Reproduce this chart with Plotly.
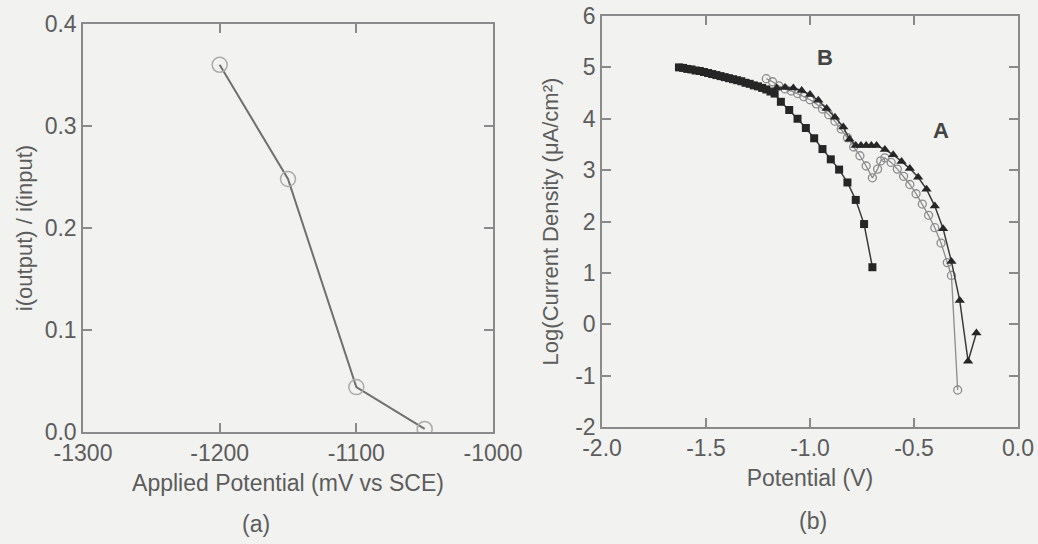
import plotly.graph_objects as go

# ---------- panel (a) ----------
pot_a = [-1200, -1150, -1100, -1050]
ratio_a = [0.36, 0.248, 0.044, 0.003]
xa_ticks = [-1300, -1200, -1100, -1000]
xa_labels = ["-1300", "-1200", "-1100", "-1000"]
ya_ticks = [0.0, 0.1, 0.2, 0.3, 0.4]
ya_labels = ["0.0", "0.1", "0.2", "0.3", "0.4"]

# ---------- panel (b) ----------
sq_x = [-1.63, -1.61, -1.59, -1.57, -1.55, -1.53, -1.51, -1.49, -1.47, -1.45,
        -1.43, -1.41, -1.39, -1.37, -1.35, -1.33, -1.31, -1.29, -1.27, -1.25,
        -1.23, -1.21, -1.19, -1.17, -1.14, -1.10, -1.06, -1.02, -0.98, -0.94,
        -0.90, -0.86, -0.82, -0.78, -0.74, -0.70]
sq_y = [5.00, 4.99, 4.97, 4.96, 4.94, 4.93, 4.91, 4.89, 4.87, 4.85,
        4.83, 4.81, 4.79, 4.77, 4.75, 4.73, 4.70, 4.68, 4.65, 4.63,
        4.60, 4.57, 4.53, 4.49, 4.33, 4.17, 4.00, 3.82, 3.62, 3.41,
        3.21, 3.01, 2.76, 2.42, 1.95, 1.11]

tri_x = [-1.20, -1.16, -1.12, -1.08, -1.04, -1.00, -0.96, -0.92, -0.88, -0.84,
         -0.81, -0.78, -0.755, -0.73, -0.705, -0.68, -0.64, -0.60, -0.56, -0.52,
         -0.48, -0.44, -0.40, -0.36, -0.32, -0.28, -0.24, -0.20]
tri_y = [4.56, 4.60, 4.61, 4.60, 4.55, 4.47, 4.36, 4.20, 4.03, 3.84,
         3.60, 3.48, 3.48, 3.48, 3.48, 3.48, 3.40, 3.30, 3.17, 3.03,
         2.86, 2.63, 2.30, 1.86, 1.22, 0.46, -0.72, -0.17]

cir_x = [-1.21, -1.18, -1.15, -1.12, -1.09, -1.06, -1.03, -1.00, -0.97, -0.94,
         -0.91, -0.88, -0.85, -0.82, -0.79, -0.76, -0.73, -0.70, -0.675, -0.66,
         -0.64, -0.61, -0.58, -0.55, -0.52, -0.49, -0.46, -0.43, -0.40, -0.37,
         -0.34, -0.32, -0.29]
cir_y = [4.78, 4.72, 4.64, 4.58, 4.54, 4.49, 4.43, 4.37, 4.29, 4.19,
         4.08, 3.95, 3.80, 3.63, 3.45, 3.28, 3.08, 2.85, 3.02, 3.18,
         3.24, 3.15, 3.02, 2.88, 2.72, 2.54, 2.34, 2.12, 1.88, 1.58,
         1.20, 0.95, -1.28]

xb_ticks = [-2.0, -1.5, -1.0, -0.5, 0.0]
xb_labels = ["-2.0", "-1.5", "-1.0", "-0.5", "0.0"]
yb_ticks = [-2, -1, 0, 1, 2, 3, 4, 5, 6]
yb_labels = ["-2", "-1", "0", "1", "2", "3", "4", "5", "6"]

BG = "#f2f2f0"
AX = "#8a8a8a"
TXT = "#5c5c5c"
FONT = "Liberation Sans, Arial, sans-serif"
W, H = 1038, 544

fig = go.Figure()

fig.add_trace(go.Scatter(
    x=pot_a, y=ratio_a, mode="lines+markers", xaxis="x", yaxis="y",
    line=dict(color="#707070", width=2),
    marker=dict(symbol="circle-open", size=15, color="#ababab", line=dict(width=1.5)),
    showlegend=False))

fig.add_trace(go.Scatter(
    x=sq_x, y=sq_y, mode="lines+markers", xaxis="x2", yaxis="y2",
    line=dict(color="#3a3a3a", width=1.5),
    marker=dict(symbol="square", size=8, color="#262626"),
    showlegend=False))

fig.add_trace(go.Scatter(
    x=cir_x, y=cir_y, mode="lines+markers", xaxis="x2", yaxis="y2",
    line=dict(color="#8c8c8c", width=1.3),
    marker=dict(symbol="circle-open", size=8, color="#8c8c8c", line=dict(width=1.3)),
    showlegend=False))

fig.add_trace(go.Scatter(
    x=tri_x, y=tri_y, mode="lines+markers", xaxis="x2", yaxis="y2",
    line=dict(color="#3a3a3a", width=1.5),
    marker=dict(symbol="triangle-up", size=9, color="#262626"),
    showlegend=False))

axis_common = dict(
    showline=True, linecolor=AX, linewidth=1.5, mirror="ticks",
    ticks="inside", ticklen=9, tickwidth=1.5, tickcolor=AX,
    showgrid=False, zeroline=False, automargin=False,
    tickfont=dict(family=FONT, size=23, color=TXT),
)


def dom_x(a, b):
    return [a / W, b / W]


def dom_y(top, bottom):
    return [1 - bottom / H, 1 - top / H]


fig.update_layout(
    width=W, height=H, autosize=False,
    margin=dict(l=0, r=0, t=0, b=0, pad=0),
    paper_bgcolor=BG, plot_bgcolor=BG,
    font=dict(family=FONT, size=23, color=TXT),
    xaxis=dict(domain=dom_x(83, 493), range=[-1300, -1000],
               tickvals=xa_ticks, ticktext=xa_labels, anchor="y",
               title=dict(text="Applied Potential (mV vs SCE)", standoff=10,
                          font=dict(family=FONT, size=23, color=TXT)),
               **axis_common),
    yaxis=dict(domain=dom_y(24, 432), range=[0, 0.4],
               tickvals=ya_ticks, ticktext=ya_labels, anchor="x",
               title=dict(text="i(output) / i(input)", standoff=6,
                          font=dict(family=FONT, size=22, color=TXT)),
               **axis_common),
    xaxis2=dict(domain=dom_x(602, 1018), range=[-2, 0],
                tickvals=xb_ticks, ticktext=xb_labels, anchor="y2",
                title=dict(text="Potential (V)", standoff=10,
                           font=dict(family=FONT, size=23, color=TXT)),
                **axis_common),
    yaxis2=dict(domain=dom_y(16, 427), range=[-2, 6],
                tickvals=yb_ticks, ticktext=yb_labels, anchor="x2",
                title=dict(text="Log(Current Density (μA/cm²)", standoff=10,
                           font=dict(family=FONT, size=22, color=TXT)),
                **axis_common),
    annotations=[
        dict(text="<b>B</b>", x=-0.93, y=5.2, xref="x2", yref="y2", showarrow=False,
             font=dict(family=FONT, size=22, color="#444444")),
        dict(text="<b>A</b>", x=-0.37, y=3.78, xref="x2", yref="y2", showarrow=False,
             font=dict(family=FONT, size=22, color="#444444")),
        dict(text="(a)", x=256 / W, y=1 - 524 / H, xref="paper", yref="paper",
             xanchor="center", yanchor="middle",
             showarrow=False, font=dict(family=FONT, size=23, color=TXT)),
        dict(text="(b)", x=813 / W, y=1 - 521 / H, xref="paper", yref="paper",
             xanchor="center", yanchor="middle",
             showarrow=False, font=dict(family=FONT, size=23, color=TXT)),
    ],
)

fig.write_html("out.html")
